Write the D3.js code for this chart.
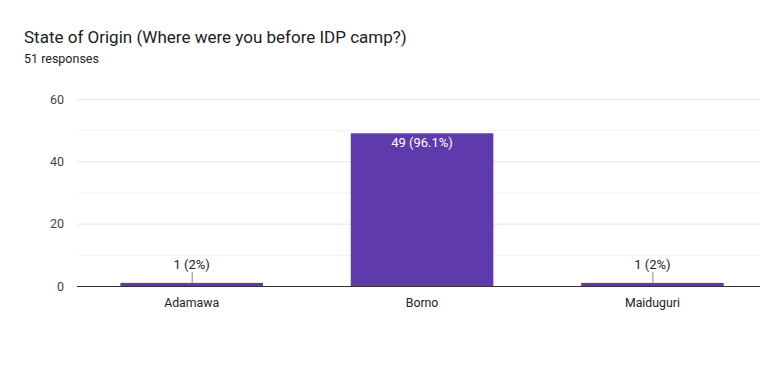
<!DOCTYPE html>
<html><head><meta charset="utf-8">
<script src="https://cdn.jsdelivr.net/npm/d3@7"></script>
<style>body{margin:0;background:#fff}svg{display:block;font-family:Roboto,Arial,sans-serif}</style>
</head><body><svg id="c" width="768" height="365"></svg>
<script>
const categories = ["Adamawa", "Borno", "Maiduguri"];
const values = [1, 49, 1];
const labels = ["1 (2%)", "49 (96.1%)", "1 (2%)"];
const yTicks = [0, 20, 40, 60];
const yGrid = [10, 20, 30, 40, 50, 60];

const svg = d3.select("#c");
const m = {l: 77, r: 760, t: 99, b: 286};
const x = d3.scaleBand().domain(categories).range([76.6, 767.5]).paddingInner(0.381).paddingOuter(0.19);
const y = d3.scaleLinear().domain([0, 60]).range([m.b, m.t]);

svg.append("text").attr("x", 24).attr("y", 43).attr("font-size", 17).attr("fill", "#202124").text("State of Origin (Where were you before IDP camp?)");
svg.append("text").attr("x", 24).attr("y", 63).attr("font-size", 12.5).attr("fill", "#202124").text("51 responses");

svg.append("g").selectAll("line").data(yGrid).join("line")
  .attr("x1", m.l).attr("x2", m.r).attr("y1", d => y(d) + 0.5).attr("y2", d => y(d) + 0.5)
  .attr("stroke", d => d % 20 === 0 ? "#e6e6e6" : "#f2f2f2");

const yAxis = d3.axisLeft(y).tickValues(yTicks).tickSize(0).tickPadding(13);
const ga = svg.append("g").attr("transform", `translate(${m.l},0)`).call(yAxis);
ga.select(".domain").remove();
ga.selectAll("text").attr("font-size", 12.5).attr("fill", "#444").attr("font-family", "Roboto,Arial,sans-serif");

svg.append("g").selectAll("rect").data(values).join("rect")
  .attr("x", (d, i) => x(categories[i])).attr("width", x.bandwidth())
  .attr("y", d => y(d)).attr("height", d => y(0) - y(d))
  .attr("fill", "#5e3aac");

svg.append("line").attr("x1", m.l).attr("x2", m.r).attr("y1", y(0) + 0.5).attr("y2", y(0) + 0.5).attr("stroke", "#333");

const xAxis = d3.axisBottom(x).tickSize(0).tickPadding(12);
const gx = svg.append("g").attr("transform", `translate(0,${y(0)})`).call(xAxis);
gx.select(".domain").remove();
gx.selectAll("text").attr("font-size", 12.3).attr("fill", "#222").attr("font-family", "Roboto,Arial,sans-serif");

values.forEach((v, i) => {
  const cx = x(categories[i]) + x.bandwidth() / 2;
  const big = y(0) - y(v) > 30;
  if (big) {
    svg.append("text").attr("x", cx).attr("y", y(v) + 14).attr("text-anchor", "middle")
      .attr("font-size", 13).attr("fill", "#fff").text(labels[i]);
  } else {
    svg.append("line").attr("x1", cx + 0.5).attr("x2", cx + 0.5).attr("y1", y(v) - 11).attr("y2", y(v))
      .attr("stroke", "#888");
    svg.append("text").attr("x", cx).attr("y", y(v) - 14).attr("text-anchor", "middle")
      .attr("font-size", 13).attr("fill", "#222").text(labels[i]);
  }
});
</script></body></html>
